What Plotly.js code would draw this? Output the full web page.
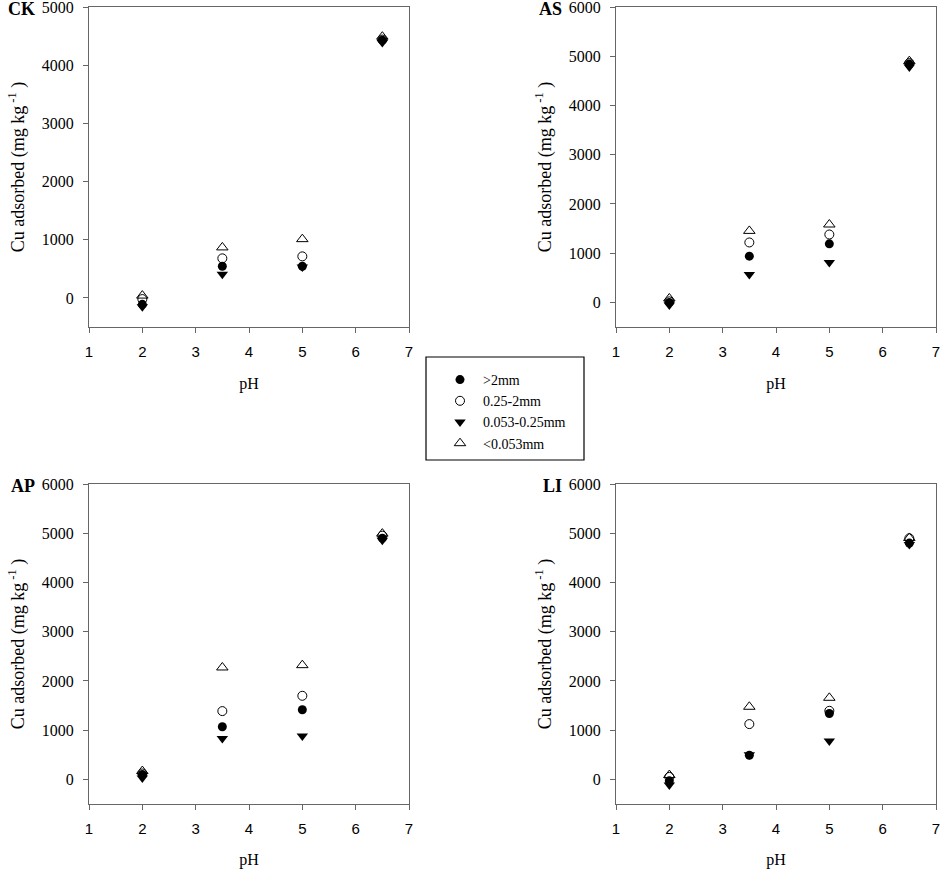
<!DOCTYPE html>
<html>
<head>
<meta charset="utf-8">
<script src="https://cdn.plot.ly/plotly-3.0.1.min.js"></script>
<style>
  html, body { margin: 0; padding: 0; background: #fff; }
  #chart { width: 941px; height: 869px; }
</style>
</head>
<body>
<div id="chart"></div>
<script>
// pH values shared by all panels
const pH = [2, 3.5, 5, 6.5];

// aggregate size fractions
const seriesNames = ['>2mm', '0.25-2mm', '0.053-0.25mm', '<0.053mm'];

// Cu adsorbed (mg kg-1), one array per fraction and soil
const ckGt2 = [-110, 545, 545, 4430];
const ckMid = [-20, 680, 714, 4440];
const ckFine = [-150, 406, 530, 4390];
const ckClay = [40, 868, 1010, 4490];

const asGt2 = [0, 939, 1189, 4840];
const asMid = [20, 1217, 1379, 4860];
const asFine = [-55, 568, 811, 4779];
const asClay = [80, 1452, 1582, 4900];

const apGt2 = [100, 1069, 1414, 4900];
const apMid = [120, 1387, 1698, 4950];
const apFine = [30, 832, 879, 4857];
const apClay = [169, 2273, 2320, 4992];

const liGt2 = [-30, 490, 1339, 4800];
const liMid = [50, 1123, 1393, 4897];
const liFine = [-115, 500, 778, 4769];
const liClay = [88, 1475, 1657, 4904];

const panelLabels = ['CK', 'AS', 'AP', 'LI'];
const xTicks = [1, 2, 3, 4, 5, 6, 7];

let panels = [
    { label: 'CK', data: [ckGt2, ckMid, ckFine, ckClay], yMax: 5000 },
    { label: 'AS', data: [asGt2, asMid, asFine, asClay], yMax: 6000 },
    { label: 'AP', data: [apGt2, apMid, apFine, apClay], yMax: 6000 },
    { label: 'LI', data: [liGt2, liMid, liFine, liClay], yMax: 6000 }
];

// marker style per fraction
let markers = [
    { symbol: 'circle', size: 9, color: '#000' },
    { symbol: 'circle-open', size: 9, color: '#000', line: { width: 1, color: '#000' } },
    { symbol: 'triangle-down', size: 10, color: '#000' },
    { symbol: 'triangle-up-open', size: 10, color: '#000', line: { width: 1, color: '#000' } }
];

const W = 941, H = 869;
// pixel boxes of the four plot areas [left, right, top, bottom]
let boxes = [
    [89, 409, 7, 327],
    [616, 936, 7, 327],
    [89, 409, 484, 804],
    [616, 936, 484, 804]
];

let traces = [];
let layout = {
    width: W,
    height: H,
    margin: { t: 0, r: 0, b: 0, l: 0 },
    paper_bgcolor: '#fff',
    plot_bgcolor: '#fff',
    font: { family: '"Liberation Serif", "Times New Roman", serif', color: '#000', size: 16 },
    showlegend: true,
    legend: {
        x: 437 / W, xanchor: 'left',
        y: 1 - 364 / H, yanchor: 'top',
        bgcolor: 'rgba(0,0,0,0)',
        borderwidth: 0,
        font: { size: 14, family: '"Liberation Serif", "Times New Roman", serif' },
        itemwidth: 36
    },
    annotations: [],
    shapes: [
        {
            type: 'rect', xref: 'paper', yref: 'paper',
            x0: 426 / W, x1: 584 / W, y0: 1 - 460 / H, y1: 1 - 357 / H,
            line: { color: '#000', width: 1.2 }
        }
    ]
};

panels.forEach(function (p, i) {
    let n = i + 1;
    let xa = 'xaxis' + (n == 1 ? '' : n);
    let ya = 'yaxis' + (n == 1 ? '' : n);
    let b = boxes[i];
    layout[xa] = {
        domain: [b[0] / W, b[1] / W],
        anchor: 'y' + (n == 1 ? '' : n),
        range: [1, 7],
        tickvals: xTicks,
        showgrid: false, zeroline: false,
        showline: true, mirror: true, linecolor: '#666', linewidth: 1,
        ticks: 'outside', ticklen: 5, tickcolor: '#666',
        ticklabelstandoff: 6,
        ticklabeloverflow: 'allow',
        tickfont: { family: '"Liberation Sans", Arial, sans-serif', size: 15, color: '#000' },
        title: { text: 'pH', font: { size: 16 }, standoff: 18 }
    };
    layout[ya] = {
        domain: [1 - b[3] / H, 1 - b[2] / H],
        anchor: 'x' + (n == 1 ? '' : n),
        range: [-500, p.yMax],
        dtick: 1000,
        showgrid: false, zeroline: false,
        showline: true, mirror: true, linecolor: '#666', linewidth: 1,
        ticks: 'outside', ticklen: 5, tickcolor: '#666',
        ticklabelstandoff: 6,
        ticklabeloverflow: 'allow',
        tickfont: { size: 16, color: '#000' },
        title: { text: 'Cu adsorbed (mg kg<sup> -1</sup> )', font: { size: 18 }, standoff: 12 }
    };
    layout.annotations.push({
        text: '<b>' + p.label + '</b>',
        xref: 'paper', yref: 'paper',
        x: (b[0] - 52) / W, xanchor: 'right',
        y: 1 - (b[2] + 2) / H, yanchor: 'middle',
        showarrow: false,
        font: { size: 18, family: '"Liberation Serif", "Times New Roman", serif' }
    });
    p.data.forEach(function (vals, s) {
        traces.push({
            type: 'scatter',
            mode: 'markers',
            name: seriesNames[s],
            x: pH,
            y: vals,
            xaxis: 'x' + (n == 1 ? '' : n),
            yaxis: 'y' + (n == 1 ? '' : n),
            showlegend: i == 0,
            marker: markers[s]
        });
    });
});

Plotly.newPlot('chart', traces, layout, { staticPlot: true });
</script>
</body>
</html>
